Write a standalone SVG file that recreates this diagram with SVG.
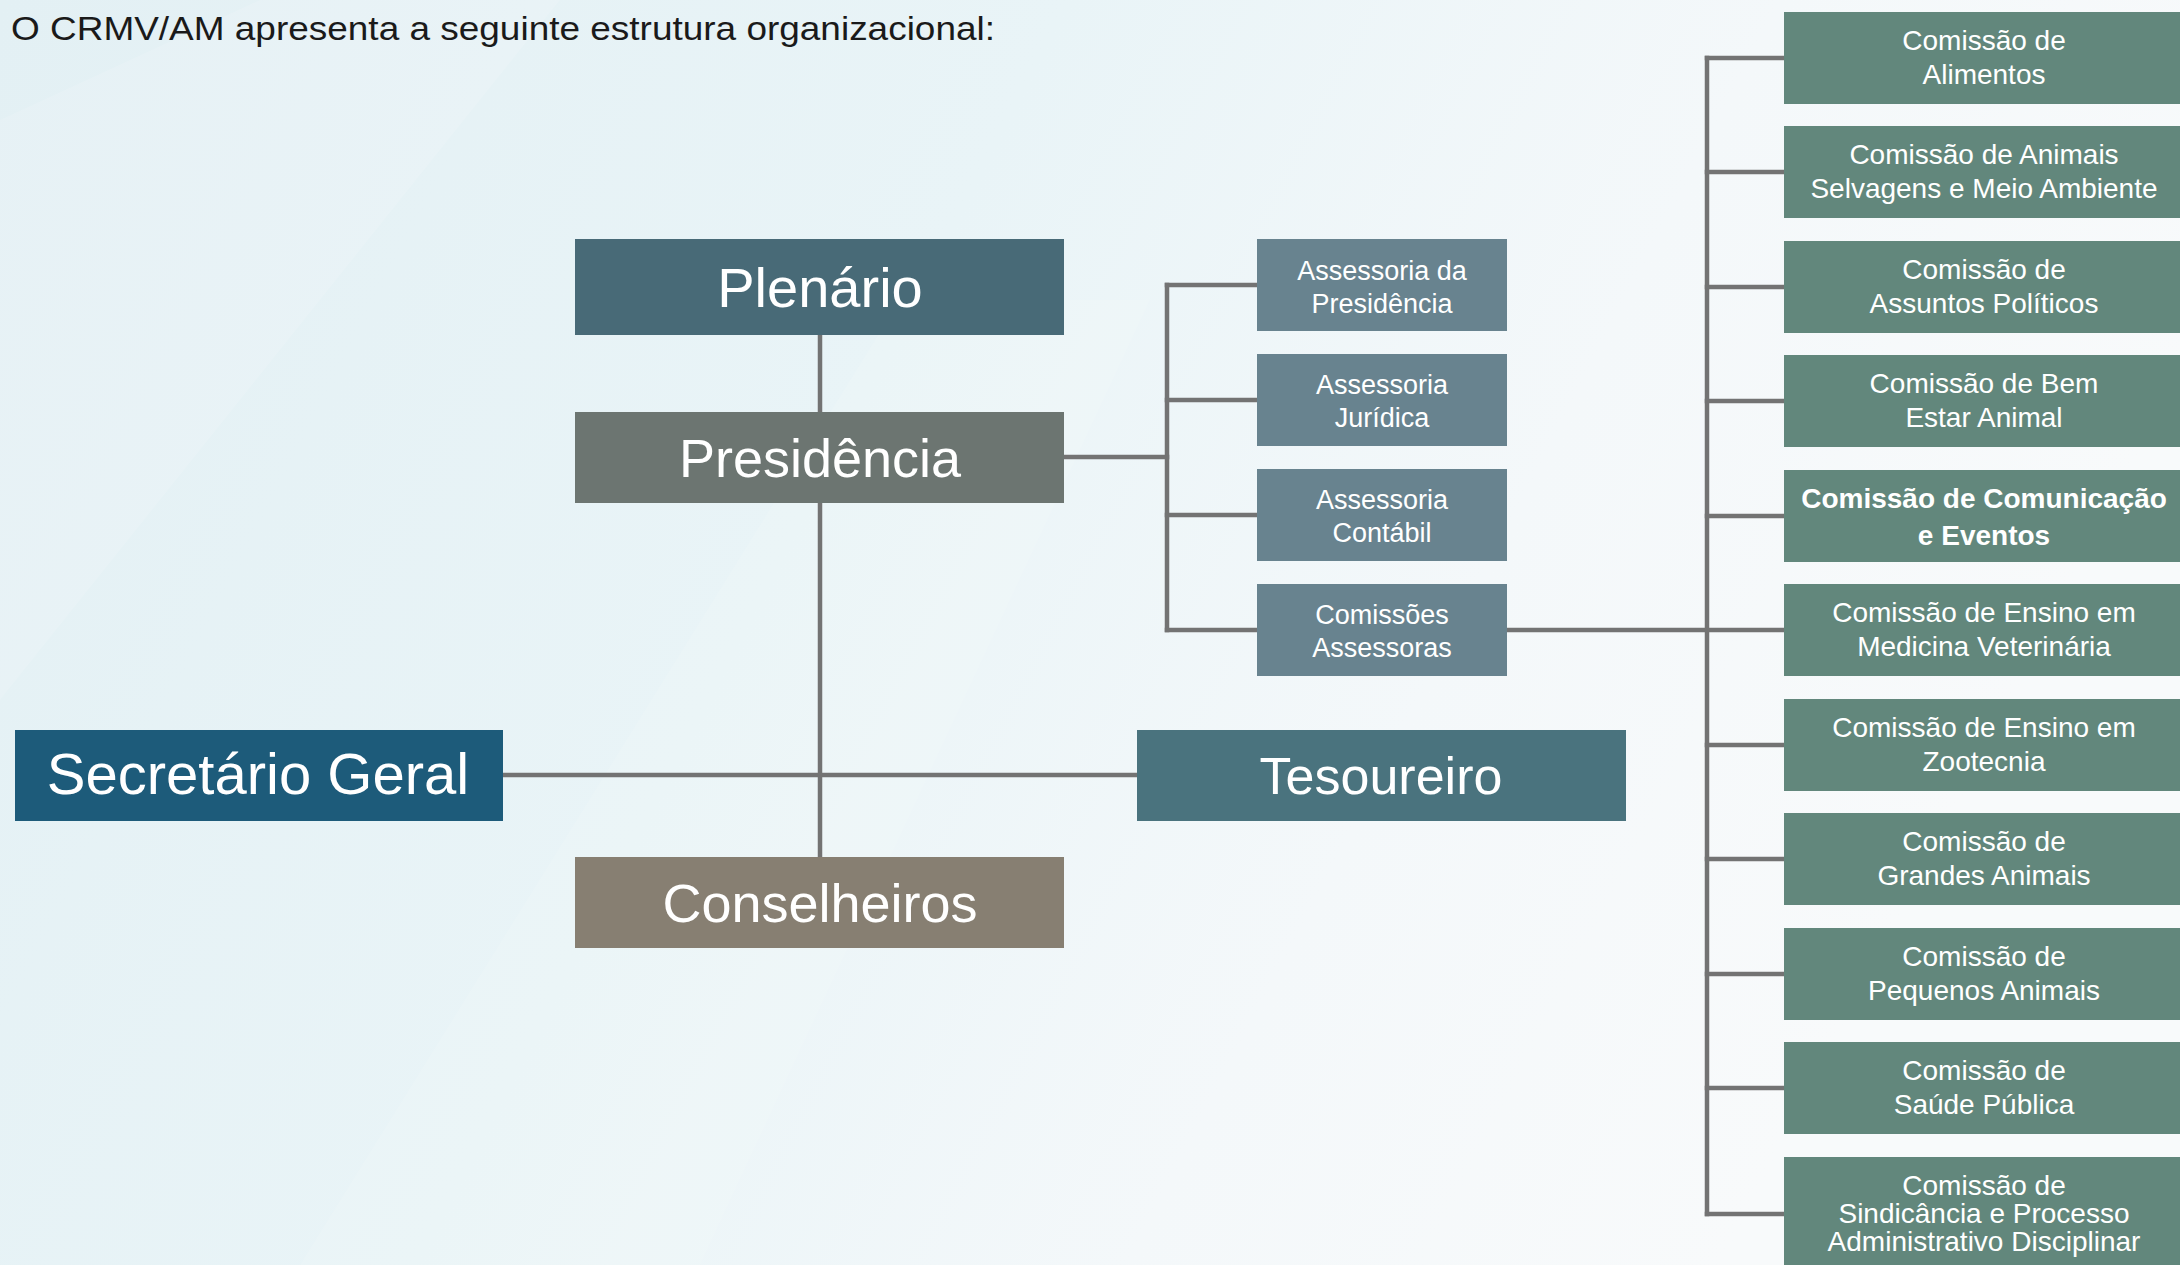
<svg xmlns="http://www.w3.org/2000/svg" width="2180" height="1265" viewBox="0 0 2180 1265">
<defs>
<linearGradient id="bg" x1="0" y1="0" x2="1" y2="0.3">
<stop offset="0" stop-color="#e3f0f4"/>
<stop offset="0.45" stop-color="#e9f4f7"/>
<stop offset="0.75" stop-color="#f4f8fa"/>
<stop offset="1" stop-color="#f8fafb"/>
</linearGradient>
<style>
.ln{stroke:#737373;stroke-width:4.5;fill:none;stroke-linecap:square}
.big{font-family:"Liberation Sans",Arial,sans-serif;fill:#ffffff;text-anchor:middle}
.sm{font-family:"Liberation Sans",Arial,sans-serif;fill:#ffffff;text-anchor:middle;font-size:27px}
.rt{font-family:"Liberation Sans",Arial,sans-serif;fill:#ffffff;text-anchor:middle;font-size:28px}
.ass{fill:#68838f}
.com{fill:#62877c}
</style>
</defs>
<rect x="0" y="0" width="2180" height="1265" fill="url(#bg)"/>
<polygon points="0,120 260,0 560,0 0,700" fill="#ffffff" opacity="0.12"/>
<polygon points="300,1265 900,300 1150,300 700,1265" fill="#ffffff" opacity="0.10"/>

<text x="11" y="40" font-family="'Liberation Sans',Arial,sans-serif" font-size="33" fill="#1a1a1a" textLength="984" lengthAdjust="spacingAndGlyphs">O CRMV/AM apresenta a seguinte estrutura organizacional:</text>

<g id="connectors">
<line class="ln" x1="820" y1="335" x2="820" y2="412"/>
<line class="ln" x1="820" y1="503" x2="820" y2="857"/>
<line class="ln" x1="503" y1="775" x2="1137" y2="775"/>
<line class="ln" x1="1064" y1="457" x2="1167" y2="457"/>
<line class="ln" x1="1167" y1="285" x2="1167" y2="630"/>
<line class="ln" x1="1167" y1="285" x2="1257" y2="285"/>
<line class="ln" x1="1167" y1="400" x2="1257" y2="400"/>
<line class="ln" x1="1167" y1="515" x2="1257" y2="515"/>
<line class="ln" x1="1167" y1="630" x2="1257" y2="630"/>
<line class="ln" x1="1507" y1="630" x2="1784" y2="630"/>
<line class="ln" x1="1707" y1="58" x2="1707" y2="1214"/>
<line class="ln" x1="1707" y1="58" x2="1784" y2="58"/>
<line class="ln" x1="1707" y1="172" x2="1784" y2="172"/>
<line class="ln" x1="1707" y1="287" x2="1784" y2="287"/>
<line class="ln" x1="1707" y1="401" x2="1784" y2="401"/>
<line class="ln" x1="1707" y1="516" x2="1784" y2="516"/>
<line class="ln" x1="1707" y1="745" x2="1784" y2="745"/>
<line class="ln" x1="1707" y1="859" x2="1784" y2="859"/>
<line class="ln" x1="1707" y1="974" x2="1784" y2="974"/>
<line class="ln" x1="1707" y1="1088" x2="1784" y2="1088"/>
<line class="ln" x1="1707" y1="1214" x2="1784" y2="1214"/>
</g>

<g id="plenario"><rect x="575" y="239" width="489" height="96" fill="#486a77"/><text class="big" x="820" y="307" font-size="56">Plenário</text></g>
<g id="presidencia"><rect x="575" y="412" width="489" height="91" fill="#6c7571"/><text class="big" x="820" y="477" font-size="54">Presidência</text></g>
<g id="secretario"><rect x="15" y="730" width="488" height="91" fill="#1d5b7a"/><text class="big" x="258" y="794" font-size="58">Secretário Geral</text></g>
<g id="tesoureiro"><rect x="1137" y="730" width="489" height="91" fill="#4a737e"/><text class="big" x="1381" y="794" font-size="52">Tesoureiro</text></g>
<g id="conselheiros"><rect x="575" y="857" width="489" height="91" fill="#877f72"/><text class="big" x="820" y="922" font-size="54">Conselheiros</text></g>

<g id="ass-presidencia"><rect class="ass" x="1257" y="239" width="250" height="92"/><text class="sm" x="1382" y="280">Assessoria da</text><text class="sm" x="1382" y="313">Presidência</text></g>
<g id="ass-juridica"><rect class="ass" x="1257" y="354" width="250" height="92"/><text class="sm" x="1382" y="394">Assessoria</text><text class="sm" x="1382" y="427">Jurídica</text></g>
<g id="ass-contabil"><rect class="ass" x="1257" y="469" width="250" height="92"/><text class="sm" x="1382" y="509">Assessoria</text><text class="sm" x="1382" y="542">Contábil</text></g>
<g id="comissoes"><rect class="ass" x="1257" y="584" width="250" height="92"/><text class="sm" x="1382" y="624">Comissões</text><text class="sm" x="1382" y="657">Assessoras</text></g>

<g id="c-alimentos"><rect class="com" x="1784" y="12" width="400" height="92"/><text class="rt" x="1984" y="50">Comissão de</text><text class="rt" x="1984" y="84">Alimentos</text></g>
<g id="c-selvagens"><rect class="com" x="1784" y="126" width="400" height="92"/><text class="rt" x="1984" y="164">Comissão de Animais</text><text class="rt" x="1984" y="198">Selvagens e Meio Ambiente</text></g>
<g id="c-politicos"><rect class="com" x="1784" y="241" width="400" height="92"/><text class="rt" x="1984" y="279">Comissão de</text><text class="rt" x="1984" y="313">Assuntos Políticos</text></g>
<g id="c-bemestar"><rect class="com" x="1784" y="355" width="400" height="92"/><text class="rt" x="1984" y="393">Comissão de Bem</text><text class="rt" x="1984" y="427">Estar Animal</text></g>
<g id="c-comunicacao"><rect class="com" x="1784" y="470" width="400" height="92"/><text class="rt" x="1984" y="508" font-weight="bold">Comissão de Comunicação</text><text class="rt" x="1984" y="545" font-weight="bold">e Eventos</text></g>
<g id="c-medvet"><rect class="com" x="1784" y="584" width="400" height="92"/><text class="rt" x="1984" y="622">Comissão de Ensino em</text><text class="rt" x="1984" y="656">Medicina Veterinária</text></g>
<g id="c-zootecnia"><rect class="com" x="1784" y="699" width="400" height="92"/><text class="rt" x="1984" y="737">Comissão de Ensino em</text><text class="rt" x="1984" y="771">Zootecnia</text></g>
<g id="c-grandes"><rect class="com" x="1784" y="813" width="400" height="92"/><text class="rt" x="1984" y="851">Comissão de</text><text class="rt" x="1984" y="885">Grandes Animais</text></g>
<g id="c-pequenos"><rect class="com" x="1784" y="928" width="400" height="92"/><text class="rt" x="1984" y="966">Comissão de</text><text class="rt" x="1984" y="1000">Pequenos Animais</text></g>
<g id="c-saude"><rect class="com" x="1784" y="1042" width="400" height="92"/><text class="rt" x="1984" y="1080">Comissão de</text><text class="rt" x="1984" y="1114">Saúde Pública</text></g>
<g id="c-sindicancia"><rect class="com" x="1784" y="1157" width="400" height="110"/><text class="rt" x="1984" y="1195">Comissão de</text><text class="rt" x="1984" y="1223">Sindicância e Processo</text><text class="rt" x="1984" y="1251">Administrativo Disciplinar</text></g>
</svg>
